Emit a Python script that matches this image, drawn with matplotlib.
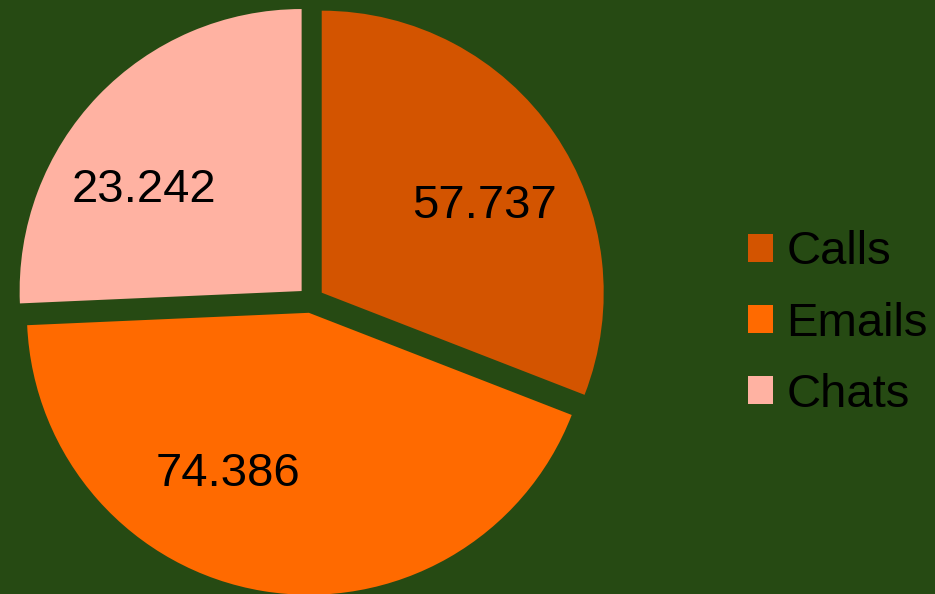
import matplotlib.pyplot as plt

# data
categories = ["Calls", "Emails", "Chats"]
value_labels = ["57.737", "74.386", "23.242"]
# angular share of each slice as drawn in the reference (percent of the circle)
slice_share = [30.9, 43.4, 25.7]
colors = ["#D35400", "#FF6A00", "#FFB2A2"]
bg = "#264A13"

plt.rcParams['font.family'] = ['Liberation Sans', 'DejaVu Sans']

fig = plt.figure(figsize=(9.35, 5.94), dpi=100, facecolor=bg)
ax = fig.add_axes([0, 0, 1, 1])
ax.set_facecolor(bg)

wedges, texts = ax.pie(slice_share, colors=colors, startangle=90, counterclock=False,
                       explode=[0.046] * 3, radius=1.0,
                       labels=value_labels, labeldistance=0.65,
                       textprops=dict(fontsize=34, color='black'))

# nudge labels to where the reference has them
nudges = [(0.04, -0.06), (-0.18, 0.07), (-0.09, -0.09)]
for t, (dx, dy) in zip(texts, nudges):
    x, y = t.get_position()
    t.set_position((x + dx, y + dy))
    t.set_ha('center')
    t.set_va('center')

# framing: pie centre near (311, 300) px from top-left, radius ~282 px
ax.set_xlim(-311 / 282, 624 / 282)
ax.set_ylim(-294 / 282, 300 / 282)
ax.set_aspect('equal')
ax.axis('off')

fig.legend(wedges, categories, loc='center left', bbox_to_anchor=(0.8, 0.455),
           frameon=False, fontsize=34, handlelength=0.53, handleheight=0.53,
           handletextpad=0.28, labelspacing=0.58, borderpad=0, borderaxespad=0)

fig.savefig("out.png", dpi=100, facecolor=bg)
